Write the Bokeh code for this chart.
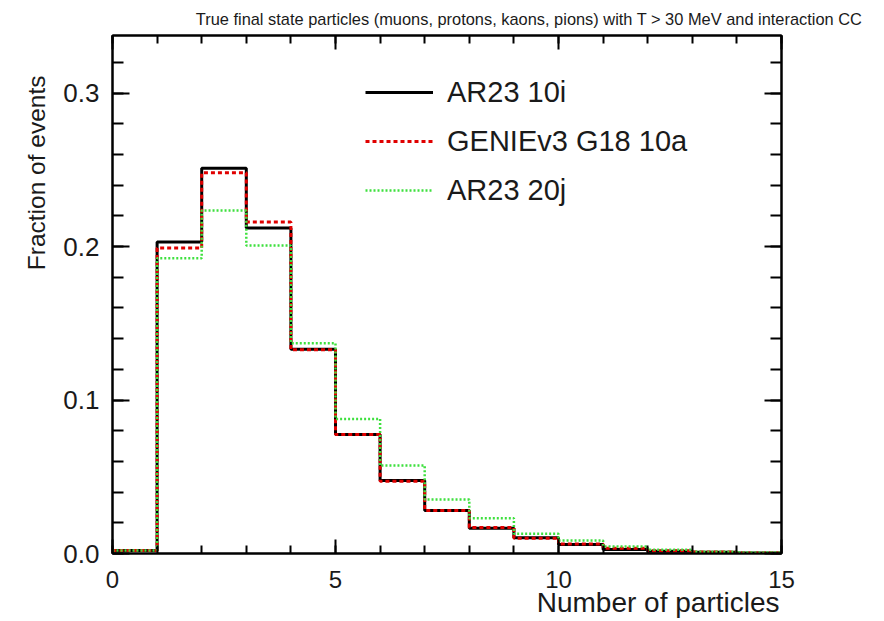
import numpy as np
from bokeh.plotting import figure
from bokeh.models import (Range1d, LinearAxis, FixedTicker, PrintfTickFormatter,
                          CustomJSTickFormatter, Title, Legend, LegendItem)
from bokeh.embed import file_html
from bokeh.resources import INLINE

# ---- data ----
bin_edges = list(range(0, 16))
ar23_10i = [0.002, 0.203, 0.251, 0.212, 0.133, 0.0775, 0.0475, 0.028, 0.0165,
            0.0102, 0.0058, 0.0026, 0.0015, 0.0008, 0.0004]
genie_g18_10a = [0.002, 0.199, 0.248, 0.216, 0.1327, 0.0775, 0.047, 0.028, 0.017,
                 0.0100, 0.0062, 0.0035, 0.0018, 0.0009, 0.0004]
ar23_20j = [0.002, 0.1924, 0.2235, 0.2007, 0.137, 0.0877, 0.0573, 0.0352, 0.023,
            0.0128, 0.0085, 0.0046, 0.0024, 0.0012, 0.0006]
series_names = ["AR23 10i", "GENIEv3 G18 10a", "AR23 20j"]
x_ticks = [0, 5, 10, 15]
y_ticks = [0.0, 0.1, 0.2, 0.3]
title_text = "True final state particles (muons, protons, kaons, pions) with T > 30 MeV and interaction CC"
x_label = "Number of particles"
y_label = "Fraction of events"

FONT = "Liberation Sans"
TXT = "#1a1a1a"

p = figure(width=880, height=618, output_backend="svg", toolbar_location=None,
           x_range=Range1d(0, 15), y_range=Range1d(0, 0.3375),
           min_border_left=112, min_border_right=99, min_border_top=35,
           min_border_bottom=65, x_axis_location=None, y_axis_location=None)
p.xgrid.visible = False
p.ygrid.visible = False
p.outline_line_color = "black"
p.outline_line_width = 2
p.background_fill_color = "white"
p.border_fill_color = "white"


def style_axis(ax, major_in, minor_in, size, labels=True):
    ax.axis_line_width = 2
    ax.axis_line_color = "black"
    ax.major_tick_in = major_in
    ax.major_tick_out = 0
    ax.minor_tick_in = minor_in
    ax.minor_tick_out = 0
    ax.major_tick_line_width = 2
    ax.minor_tick_line_width = 2
    ax.major_label_text_font = FONT
    ax.major_label_text_font_size = size
    ax.major_label_text_color = TXT
    if not labels:
        ax.formatter = CustomJSTickFormatter(code="return ''")
        ax.major_label_standoff = 0


xticker = FixedTicker(ticks=x_ticks, minor_ticks=bin_edges)
yminor = [round(0.02 * i, 2) for i in range(0, 17)]
yticker = FixedTicker(ticks=y_ticks, minor_ticks=yminor)

xb = LinearAxis(ticker=xticker, formatter=PrintfTickFormatter(format="%d"))
style_axis(xb, 14, 8, "24px")
xb.major_label_standoff = 17
p.add_layout(xb, "below")

xt = LinearAxis(ticker=xticker)
style_axis(xt, 14, 8, "1px", labels=False)
p.add_layout(xt, "above")

yl = LinearAxis(ticker=yticker, formatter=PrintfTickFormatter(format="%.1f"))
style_axis(yl, 17, 11, "26px")
yl.major_label_standoff = 13
p.add_layout(yl, "left")

yr = LinearAxis(ticker=yticker)
style_axis(yr, 17, 11, "1px", labels=False)
p.add_layout(yr, "right")

# ---- histograms ----
def step_vals(v):
    return list(v) + [v[-1]]

r1 = p.step(bin_edges, step_vals(ar23_10i), mode="after", line_color="black",
            line_width=3)
r2 = p.step(bin_edges, step_vals(genie_g18_10a), mode="after", line_color="#e00000",
            line_width=3, line_dash="4 3")
r3 = p.step(bin_edges, step_vals(ar23_20j), mode="after", line_color="#3ee03e",
            line_width=2.5, line_dash="2 2")

legend = Legend(items=[LegendItem(label=series_names[0], renderers=[r1]),
                       LegendItem(label=series_names[1], renderers=[r2]),
                       LegendItem(label=series_names[2], renderers=[r3])],
                location=(253, 345), border_line_color=None,
                background_fill_alpha=0, label_text_font=FONT,
                label_text_font_size="29px", label_text_color=TXT,
                glyph_width=68, glyph_height=36, label_height=36, spacing=13,
                label_standoff=14, padding=0, margin=0)
p.add_layout(legend, "center")

# ---- texts ----
p.title.text = title_text
p.title.align = "right"
p.title.offset = -81
p.title.vertical_align = "bottom"
p.title.standoff = 15
p.title.text_font = FONT
p.title.text_font_size = "16.4px"
p.title.text_font_style = "normal"
p.title.text_color = TXT

p.add_layout(Title(text=x_label, align="right", offset=2, vertical_align="top",
                   standoff=-8, text_font=FONT, text_font_size="28px",
                   text_font_style="normal", text_color=TXT), "below")
p.add_layout(Title(text=y_label, align="right", offset=40, vertical_align="bottom",
                   standoff=22, text_font=FONT, text_font_size="24.5px",
                   text_font_style="normal", text_color=TXT), "left")

open("out.html", "w").write(file_html(p, INLINE))
